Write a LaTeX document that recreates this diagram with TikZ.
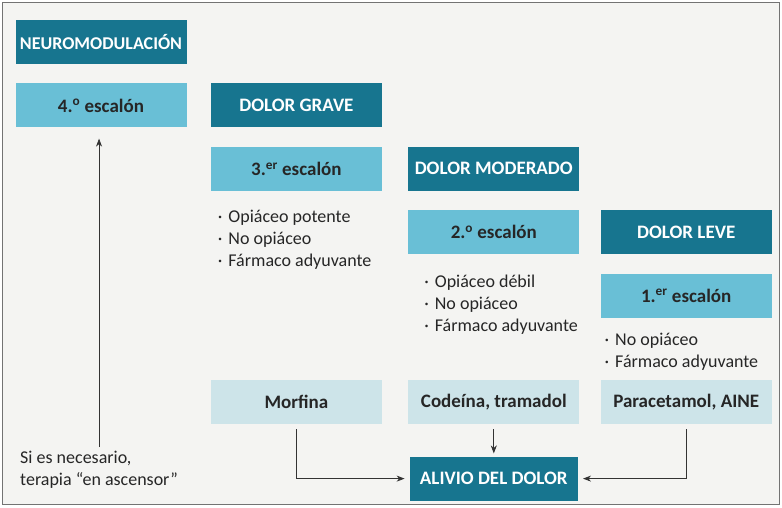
\documentclass[tikz,border=0pt]{standalone}
\usepackage{fontspec}
\setmainfont{Carlito}
\usepackage{xcolor}
\usetikzlibrary{arrows.meta, positioning}

\definecolor{tealdark}{HTML}{17758F}
\definecolor{teallight}{HTML}{69BFD6}
\definecolor{tealpale}{HTML}{CDE4E9}
\definecolor{paper}{HTML}{F4F4F2}

\newcommand{\punto}{\textperiodcentered\hspace{6pt}}

\begin{document}
\begin{tikzpicture}[
            x=1pt, y=-1pt,
            node distance=19pt and 24pt,
            box/.style={rectangle, minimum width=171pt, minimum height=44pt, inner sep=0pt, align=center, font=\fontsize{19}{22}\selectfont\bfseries},
            dark/.style={box, fill=tealdark, text=white},
            light/.style={box, fill=teallight, text=black!85},
            pale/.style={box, fill=tealpale, text=black!85},
            bullets/.style={anchor=north west, align=left, inner sep=0pt, font=\fontsize{18}{22}\selectfont, text=black!85},
            arrow/.style={->, >={Stealth[length=8pt, width=6pt, inset=2.5pt]}, line width=0.8pt, draw=black!80}
        ]

        % Marco
        \useasboundingbox (0,0) rectangle (782,507);
        \draw[fill=paper, draw=black!55, line width=1.2pt] (2.5,2.5) rectangle (779.5,504.5);

        % Escalones
        \node[dark, font=\fontsize{18}{22}\selectfont\bfseries] (neuro) at (101,42) {NEUROMODULACIÓN};
        \node[light, below=of neuro] (esc4) {4.\textsuperscript{o} escalón};
        \node[dark, right=of esc4] (grave) {DOLOR GRAVE};
        \node[light, below=of grave] (esc3) {3.\textsuperscript{er} escalón};
        \node[dark, right=26pt of esc3] (moderado) {DOLOR MODERADO};
        \node[light, below=of moderado] (esc2) {2.\textsuperscript{o} escalón};
        \node[dark, right=21pt of esc2] (leve) {DOLOR LEVE};
        \node[light, below=of leve] (esc1) {1.\textsuperscript{er} escalón};

        % Listas
        \node[bullets] (lista3) at ([xshift=7pt, yshift=-19pt]esc3.south west) {\punto Opiáceo potente\\ \punto No opiáceo\\ \punto Fármaco adyuvante};
        \node[bullets] (lista2) at ([xshift=16pt, yshift=-20pt]esc2.south west) {\punto Opiáceo débil\\ \punto No opiáceo\\ \punto Fármaco adyuvante};
        \node[bullets] (lista1) at ([xshift=4pt, yshift=-15pt]esc1.south west) {\punto No opiáceo\\ \punto Fármaco adyuvante};

        % Farmacos
        \node[pale, below=189pt of esc3] (morfina) {Morfina};
        \node[pale, right=26pt of morfina] (codeina) {Codeína, tramadol};
        \node[pale, right=21pt of codeina] (paracetamol) {Paracetamol, AINE};
        \node[dark, minimum width=168pt, below=32pt of codeina] (alivio) {ALIVIO DEL DOLOR};

        % Nota
        \node[bullets] (nota) at (20,451) {Si es necesario,\\ terapia “en ascensor”};

        % Conexiones
        \draw[arrow, shorten <=5pt, shorten >=3pt] (codeina) -- (alivio);
        \draw[arrow, shorten <=5pt, shorten >=5pt] (morfina) |- (alivio);
        \draw[arrow, shorten <=5pt, shorten >=5pt] (paracetamol) |- (alivio);
        \draw[arrow, shorten <=4pt, shorten >=11pt] (nota.north) -- (nota.north |- esc4.south);

    \end{tikzpicture}
\end{document}
